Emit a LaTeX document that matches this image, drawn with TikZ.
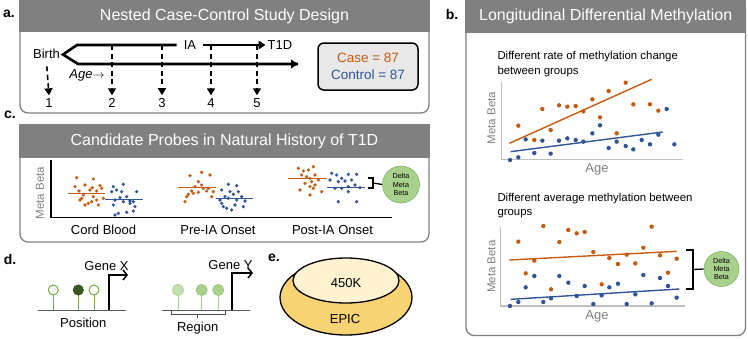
\documentclass[tikz,border=0pt]{standalone}
\usepackage{fontspec}
\setmainfont{Liberation Sans}
\usetikzlibrary{arrows.meta}
\definecolor{hdr}{HTML}{808080}
\definecolor{orng}{HTML}{C55A11}
\definecolor{blu}{HTML}{2F5597}
\definecolor{grn}{HTML}{A9D18E}
\definecolor{grnd}{HTML}{7FB560}
\definecolor{grnl}{HTML}{C5E0B4}
\definecolor{grndark}{HTML}{375623}
\definecolor{stemg}{HTML}{70AD47}
\definecolor{boxg}{HTML}{E8E8E8}
\definecolor{axg}{HTML}{BFBFBF}
\definecolor{txg}{HTML}{808080}
\definecolor{epic}{HTML}{F8D374}
\definecolor{k450}{HTML}{FEF2D0}
\tikzset{
  panel/.style={draw=hdr, line width=1.3pt, rounded corners=8pt},
  hdrbar/.style={fill=hdr},
  hdrtext/.style={text=white, font=\fontsize{16}{18}\selectfont},
  lbl/.style={font=\bfseries\fontsize{14}{16}\selectfont},
  tl/.style={line width=2.6pt},
  tip/.style={-{Triangle[length=7pt,width=8.5pt]}},
  dasharrow/.style={line width=1.6pt, dash pattern=on 5pt off 3.5pt, -{Triangle[length=7pt,width=8pt]}},
  casebox/.style={draw=black, line width=1.5pt, rounded corners=6pt, fill=boxg, minimum width=100pt, minimum height=47pt, align=center, font=\fontsize{13.5}{17}\selectfont},
  od/.style={fill=orng},
  bd/.style={fill=blu},
  fitline/.style={line width=1.4pt},
  gaxis/.style={draw=axg, line width=1.3pt},
  ylab/.style={text=txg, rotate=90, font=\fontsize{11.5}{13}\selectfont},
  xlab/.style={text=txg, font=\fontsize{13}{15}\selectfont},
  ttl/.style={anchor=west, font=\fontsize{11.4}{13}\selectfont, text height=8.5pt, text depth=2.5pt, inner sep=0pt},
  delta/.style={circle, fill=grn, draw=grnd, line width=0.6pt, minimum size=#1, inner sep=0pt, align=center, font=\fontsize{7.2}{8.4}\selectfont},
  brk/.style={line width=1.3pt},
  stem/.style={draw=stemg, line width=1pt},
  lolli/.style={draw=stemg, line width=1pt},
  prom/.style={line width=1.5pt, -{Straight Barb[length=4pt,width=10pt]}},
  baseln/.style={draw=black!65, line width=1pt},
}
\begin{document}
\begin{tikzpicture}[x=1pt,y=-1pt,font=\fontsize{13}{15.6}\selectfont]
\useasboundingbox (0,0) rectangle (748,338);

% ---------------- panel frames
\draw[panel] (20,0) rectangle (429,113);
\fill[hdrbar] (19.35,-0.7) rectangle (429.65,32);
\node[hdrtext] (ha) at (224.5,16.5) {Nested Case-Control Study Design};

\draw[panel] (466,0) rectangle (745.5,335.5);
\fill[hdrbar] (465.35,-0.7) rectangle (746.15,33);
\node[hdrtext] (hb) at (605.75,16.5) {Longitudinal Differential Methylation};

\draw[panel] (20,125) rectangle (429,242);
\fill[hdrbar] (19.35,124.3) rectangle (429.65,158);
\node[hdrtext] (hc) at (224.5,141.5) {Candidate Probes in Natural History of T1D};

\node[lbl] (la) at (9,14) {a.};
\node[lbl] (lb) at (452,14) {b.};
\node[lbl] (lc) at (10,115) {c.};
\node[lbl] (ld) at (10,259) {d.};
\node[lbl] (le) at (274,258) {e.};

% ---------------- panel a
\node (birth) at (46.5,54) {Birth};
\node[inner xsep=7pt] (ia) at (190,45) {IA};
\node[inner xsep=2pt] (t1d) at (280,45) {T1D};
\coordinate (chL) at (77,45);
\coordinate (chP) at (63,54.5);
\coordinate (chB) at (78,64);
\coordinate (agend) at (298,64);
\draw[tl,line join=miter] (ia.west) -- (chL) -- (chP) -- (chB) -- (agend);
\draw[tl,tip] (chB) -- (agend);
\draw[tl,tip] (ia.east) -- (t1d.west);
\node (agelab) at (87,75.5) {\textit{Age}$\rightarrow$};

\foreach \i/\x in {1/49,2/112,3/162,4/211,5/257}{
  \node[inner sep=1pt] (n\i) at (\x,103) {\i};
}
\foreach \i/\x in {2/112,3/162,4/211,5/257}{
  \coordinate (t\i) at (\x,45);
  \draw[dasharrow] (t\i) -- ([yshift=2pt]n\i.north);
}
\draw[dasharrow, shorten <=4pt] (birth.south) -- ([yshift=2pt]n1.north);

\node[casebox] (cc) at (368,66.5) {\textcolor{orng}{Case = 87}\\\textcolor{blu}{Control = 87}};

% ---------------- panel c
\draw[line width=1.4pt] (51,160) -- (51,217.5) -- (392,217.5);
\node[ylab] (cy) at (40,193) {Meta Beta};
\node (cb) at (103.5,230) {Cord Blood};
\node (pre) at (218,230) {Pre-IA Onset};
\node (post) at (332.5,230) {Post-IA Onset};
\begin{scope}[shift={(55,155)},x=0.33333pt,y=-0.33333pt]
  \foreach \p in {(65,68),(115,72),(60,95),(90,90),(112,98),(135,92),(140,100),(72,108),(105,105),(125,108),(85,120),(75,135),(90,150),(100,145),(110,140),(125,135),(130,150),(80,130),(115,125),(145,130),
                  (405,62),(440,52),(465,60),(430,80),(420,95),(445,100),(410,108),(400,118),(415,115),(430,112),(460,100),(475,110),(470,125),(390,140),(440,90),(455,108),(395,125),
                  (730,40),(745,48),(760,45),(775,35),(740,60),(755,65),(765,70),(770,80),(780,60),(790,75),(750,85),(765,95),(775,100),(735,105),(765,120),(800,110),(780,90)}
    \fill[od] \p circle (1.8pt);
  \foreach \p in {(175,95),(205,88),(185,105),(170,110),(200,110),(245,110),(215,125),(180,135),(195,128),(175,150),(205,140),(225,138),(235,140),(240,155),(190,175),(215,172),(235,168),(180,180),(225,145),
                  (520,88),(545,92),(500,105),(525,110),(550,110),(535,118),(560,125),(510,125),(495,135),(520,130),(545,135),(570,138),(500,145),(540,150),(565,155),(515,160),(505,155),(530,165),
                  (830,55),(845,60),(880,58),(905,58),(860,70),(870,78),(890,75),(825,75),(850,80),(900,90),(880,95),(915,98),(860,100),(850,140),(880,110),(905,140),(840,100)}
    \fill[bd] \p circle (1.8pt);
  \draw[fitline,orng] (38,115) -- (150,115);
  \draw[fitline,blu] (150,133) -- (265,133);
  \draw[fitline,orng] (368,97) -- (482,97);
  \draw[fitline,blu] (482,130) -- (595,130);
  \draw[fitline,orng] (700,70) -- (815,70);
  \draw[fitline,blu] (815,97) -- (930,97);
  \coordinate (cbr) at (960,82);
\end{scope}
\node[delta=37pt] (dc) at (401,184.5) {Delta\\Meta\\Beta};
\draw[brk] (368,178) -- (373,178) -- (373,188) -- (368,188);
\draw[brk] (373,183) -- (dc.west);

% ---------------- panel b (top plot)
\node[ttl] (bt1) at (497.3,56.7) {Different rate of methylation change};
\node[ttl] (bt2) at (497.3,71.7) {between groups};
\node[ylab] (by1) at (491.5,118) {Meta Beta};
\node[xlab] (bx1) at (597,169) {Age};
\begin{scope}[shift={(380,0)},x=0.33333pt,y=-0.33333pt]
  \draw[gaxis] (365,245) -- (365,479) -- (910,479);
  \foreach \p in {(415,377),(463,420),(487,327),(512,390),(537,316),(562,320),(587,318),(610,334),(637,298),(660,352),(686,273),(710,400),(737,248),(760,313),(810,313),(835,332)}
    \fill[od] \p circle (2.2pt);
  \foreach \p in {(390,480),(415,472),(437,418),(463,459),(487,422),(512,461),(537,422),(562,415),(587,420),(610,425),(637,400),(660,376),(686,444),(710,425),(737,438),(760,448),(785,420),(810,433),(835,404),(860,327),(883,433)}
    \fill[bd] \p circle (2.2pt);
  \draw[fitline,orng] (388,430) -- (815,238);
  \draw[fitline,blu] (392,455) -- (848,396);
\end{scope}

% ---------------- panel b (bottom plot)
\node[ttl] (bt3) at (497.3,198.3) {Different average methylation between};
\node[ttl] (bt4) at (497.3,212.7) {groups};
\node[ylab] (by2) at (491.5,266.7) {Meta Beta};
\node[xlab] (bx2) at (597,316.7) {Age};
\begin{scope}[shift={(380,170)},x=0.33333pt,y=-0.33333pt]
  \draw[gaxis] (362,170) -- (362,408) -- (915,408);
  \foreach \p in {(415,215),(437,310),(463,272),(490,168),(513,358),(538,216),(565,180),(590,190),(614,186),(640,246),(665,343),(688,264),(714,282),(740,254),(766,280),(790,233),(815,170),(840,256),(864,308),(890,266)}
    \fill[od] \p circle (2.2pt);
  \foreach \p in {(390,408),(415,396),(437,352),(463,318),(490,396),(513,385),(538,318),(565,338),(590,378),(614,348),(640,402),(665,376),(688,352),(714,341),(740,402),(766,373),(790,315),(815,400),(840,324),(864,348),(890,383)}
    \fill[bd] \p circle (2.2pt);
  \draw[fitline,orng] (388,270) -- (890,244);
  \draw[fitline,blu] (392,388) -- (898,357);
\end{scope}
\node[delta=35pt] (db) at (721.5,269) {Delta\\Meta\\Beta};
\draw[brk] (686,250) -- (693,250) -- (693,289) -- (686,289);
\draw[brk] (693,269.5) -- (db.west);

% ---------------- panel d
\draw[baseln] (38,310) -- (126,310);
\foreach \x in {53.3,78.3,94} \draw[stem] (\x,310) -- (\x,295);
\draw[lolli,fill=white] (53.3,290) circle (5pt);
\draw[lolli,fill=grndark,draw=grndark] (78.3,290) circle (5pt);
\draw[lolli,fill=white] (94,290) circle (5pt);
\node (genex) at (106.5,266.5) {Gene X};
\coordinate (px0) at (109,310);
\coordinate (px1) at (109,275);
\coordinate (px2) at (128,275);
\draw[prom] (px0) -- (px1) -- (px2);
\node (posn) at (83.3,322.7) {Position};

\draw[baseln] (162,310) -- (250,310);
\foreach \x in {178,201.7,218.3} \draw[stem,draw=grn] (\x,310) -- (\x,295);
\draw[lolli,fill=grnl,draw=grnl!70!stemg] (178,290) circle (5.5pt);
\draw[lolli,fill=grn,draw=grn!80!stemg] (201.7,290) circle (5.5pt);
\draw[lolli,fill=grn,draw=grn!80!stemg] (218.3,290) circle (5.5pt);
\node (geney) at (230.5,265) {Gene Y};
\coordinate (py0) at (232,310);
\coordinate (py1) at (232,273);
\coordinate (py2) at (253,273);
\draw[prom] (py0) -- (py1) -- (py2);
\draw[line width=0.9pt,black!70] (171.7,309.5) -- (171.7,314) -- (225,314) -- (225,309.5);
\draw[line width=0.9pt,black!70] (197.7,314) -- (197.7,318);
\node (regn) at (197.7,328.5) {Region};

% ---------------- panel e
\draw[fill=epic, line width=1.3pt] (346,297.5) ellipse [x radius=66pt, y radius=37.5pt];
\draw[fill=k450, line width=1.3pt] (346,280.5) ellipse [x radius=53pt, y radius=22.5pt];
\node (k) at (346,283) {450K};
\node (ep) at (345,319) {EPIC};
\end{tikzpicture}
\end{document}
